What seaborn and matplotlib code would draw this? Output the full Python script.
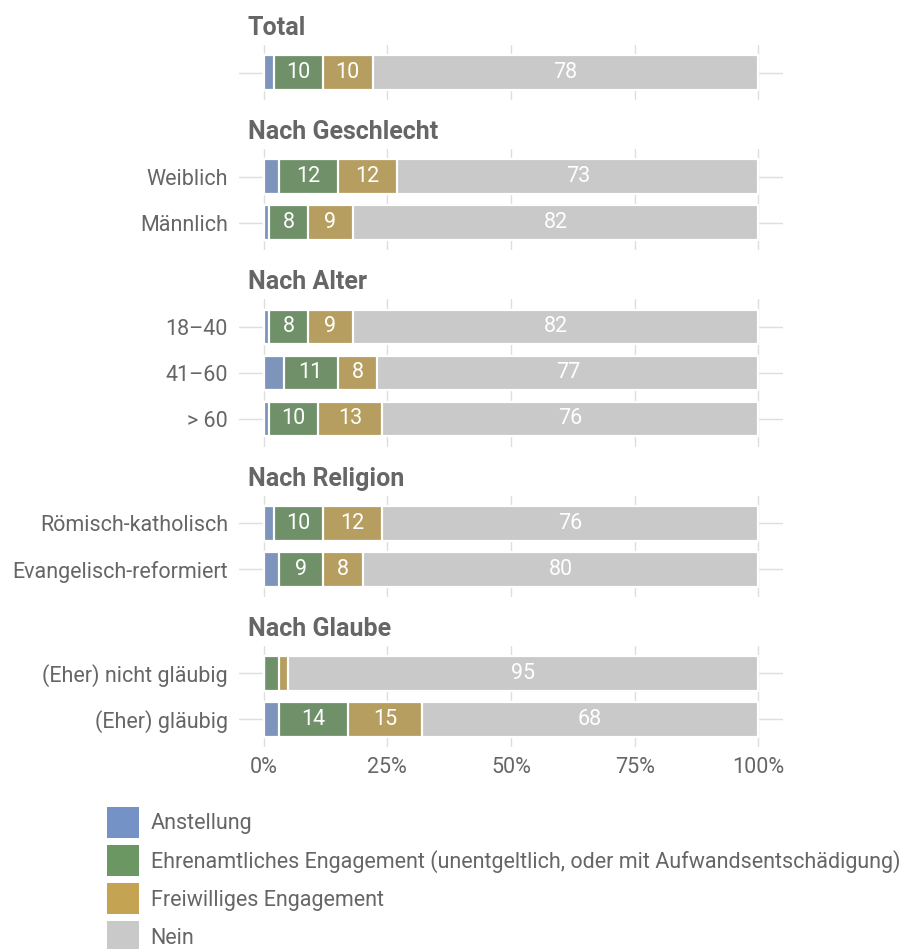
import matplotlib
matplotlib.use("Agg")
import matplotlib.pyplot as plt
from matplotlib.patches import Patch
import seaborn as sns
import numpy as np

# Daten (Prozent)
gruppen = ["Total", "Nach Geschlecht", "Nach Alter", "Nach Religion", "Nach Glaube"]
kategorien = [
    [""],
    ["Weiblich", "Männlich"],
    ["18–40", "41–60", "> 60"],
    ["Römisch-katholisch", "Evangelisch-reformiert"],
    ["(Eher) nicht gläubig", "(Eher) gläubig"],
]
anstellung = [[2], [3, 1], [1, 4, 1], [2, 3], [0, 3]]
ehrenamt = [[10], [12, 8], [8, 11, 10], [10, 9], [3, 14]]
freiwillig = [[10], [12, 9], [9, 8, 13], [12, 8], [2, 15]]
nein = [[78], [73, 82], [82, 77, 76], [76, 80], [95, 68]]

serien = ["Anstellung",
          "Ehrenamtliches Engagement (unentgeltlich, oder mit Aufwandsentschädigung)",
          "Freiwilliges Engagement",
          "Nein"]
farben = ["#7492c5", "#6b9762", "#c4a453", "#c9c9c9"]

sns.set_theme(style="whitegrid")
plt.rcParams["font.family"] = ["Roboto", "DejaVu Sans"]
textfarbe = "#666666"
fs = 15.5

W, H = 908, 949
fig = plt.figure(figsize=(W / 100, H / 100), dpi=100)

unit = 46.0       # px pro Zeile
rand = 0.6        # Zeilen-Rand oben/unten
luecke = 49.0     # px zwischen den Panels
ax_left, ax_right = 239.0, 783.0
top = 45.0

for gi, gruppe in enumerate(gruppen):
    labels = kategorien[gi]
    n = len(labels)
    hoehe = (n - 1 + 2 * rand) * unit
    ax = fig.add_axes([ax_left / W, 1 - (top + hoehe) / H,
                       (ax_right - ax_left) / W, hoehe / H])
    top += hoehe + luecke

    werte = np.array([anstellung[gi], ehrenamt[gi], freiwillig[gi], nein[gi]], dtype=float)
    kum = np.cumsum(werte, axis=0)
    # gestapelte Balken: von hinten (Summe) nach vorne zeichnen
    for k in range(3, -1, -1):
        sns.barplot(x=list(kum[k]), y=labels, color=farben[k], orient="h",
                    width=0.76, edgecolor="white", linewidth=1.6, ax=ax,
                    zorder=2)
    for i in range(n):
        for k in range(4):
            v = werte[k, i]
            if v >= 5:
                mitte = kum[k, i] - v / 2
                ax.text(mitte, i, f"{v:.0f}", color="white", ha="center",
                        va="center", fontsize=fs, zorder=5)

    ax.set_xlim(-5, 105)
    ax.set_ylim(n - 1 + rand, -rand)
    ax.set_xticks([0, 25, 50, 75, 100])
    ax.set_xlabel("")
    ax.set_ylabel("")
    ax.grid(True, color="#dedede", linewidth=1)
    ax.set_axisbelow(True)
    for s in ax.spines.values():
        s.set_visible(False)
    ax.tick_params(axis="both", length=0, labelsize=fs, colors=textfarbe)
    ax.tick_params(axis="y", pad=8)
    if gi == len(gruppen) - 1:
        ax.set_xticklabels(["0%", "25%", "50%", "75%", "100%"])
        ax.tick_params(axis="x", pad=7)
    else:
        ax.set_xticklabels([])
    ax.annotate(gruppe, xy=(-3.2, 1), xycoords=("data", "axes fraction"),
                xytext=(0, 10), textcoords="offset pixels", ha="left",
                va="baseline", fontsize=18, fontweight="bold", color=textfarbe)

handles = [Patch(facecolor=f, edgecolor="white", linewidth=0) for f in farben]
fig.legend(handles, serien, loc="upper left",
           bbox_to_anchor=(107 / W, 1 - 807 / H), frameon=False,
           fontsize=fs, labelcolor=textfarbe, handlelength=1.49,
           handleheight=1.84, labelspacing=0.33, handletextpad=0.54,
           borderpad=0, borderaxespad=0)

fig.savefig("out.png", dpi=100)
